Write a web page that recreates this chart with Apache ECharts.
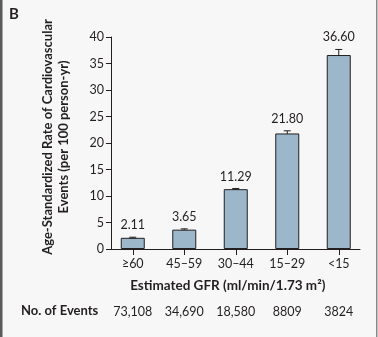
<!DOCTYPE html>
<html><head><meta charset="utf-8">
<script src="https://cdn.jsdelivr.net/npm/echarts@6/dist/echarts.min.js"></script>
<style>html,body{margin:0;padding:0;background:#f7f7f7}#c{width:378px;height:337px}</style>
</head><body><div id="c"></div>
<script>
var categories = ['≥60', '45–59', '30–44', '15–29', '<15'];
var rates = [2.11, 3.65, 11.29, 21.80, 36.60];
var ciLow = [2.0, 3.5, 11.15, 21.35, 35.9];
var ciHigh = [2.22, 3.8, 11.42, 22.3, 37.65];
var events = ['73,108', '34,690', '18,580', '8809', '3824'];
var yTicks = {min: 0, max: 40, interval: 5};

var FONT = 'Lato';
var TXT = '#231f20';
var chart = echarts.init(document.getElementById('c'), null, {renderer: 'canvas'});
chart.setOption({
  backgroundColor: '#f7f7f7',
  animation: false,
  textStyle: {fontFamily: FONT, color: TXT},
  grid: [
    {left: 107, width: 257.5, top: 37, bottom: 88},
    {left: 111, width: 249, top: 37, bottom: 88}
  ],
  xAxis: [
    {gridIndex: 0, type: 'category', data: categories,
     axisLine: {show: false},
     axisTick: {show: true, alignWithLabel: true, length: 6, lineStyle: {color: TXT}},
     axisLabel: {margin: 8, fontSize: 12.5, color: TXT, fontFamily: FONT, interval: 0},
     name: 'Estimated GFR (ml/min/1.73 m²)', nameLocation: 'middle', nameGap: 30,
     nameTextStyle: {fontSize: 13.5, fontWeight: 'bold', color: TXT, fontFamily: FONT, padding: [0, 16, 0, 0]}},
    {gridIndex: 1, type: 'category', data: categories,
     axisLine: {show: true, lineStyle: {color: TXT, width: 1}},
     axisTick: {show: false}, axisLabel: {show: false}},
    {gridIndex: 0, type: 'category', data: events, position: 'bottom',
     axisLine: {show: false}, axisTick: {show: false},
     axisLabel: {margin: 56, fontSize: 12.5, color: TXT, fontFamily: FONT, interval: 0}}
  ],
  yAxis: [
    {gridIndex: 0, type: 'value', min: yTicks.min, max: yTicks.max, interval: yTicks.interval, show: false},
    {gridIndex: 1, type: 'value', min: yTicks.min, max: yTicks.max, interval: yTicks.interval,
     axisLine: {show: true, lineStyle: {color: TXT}},
     axisTick: {show: true, length: 5, lineStyle: {color: TXT}},
     splitLine: {show: false},
     axisLabel: {margin: 7, fontSize: 12.5, color: TXT, fontFamily: FONT},
     name: 'Age-Standardized Rate of Cardiovascular\nEvents (per 100 person-yr)',
     nameLocation: 'middle', nameRotate: 90, nameGap: 39,
     nameTextStyle: {fontSize: 13, fontWeight: 'bold', color: TXT, fontFamily: FONT, lineHeight: 16, padding: [0, 0, 0, 12]}}
  ],
  series: [
    {type: 'bar', xAxisIndex: 0, yAxisIndex: 0, data: rates, barWidth: 24,
     itemStyle: {color: '#9bb7c9', borderColor: '#231f20', borderWidth: 1}},
    {type: 'custom', xAxisIndex: 0, yAxisIndex: 0,
     data: rates.map(function (v, i) { return [i, ciLow[i], ciHigh[i], v]; }),
     renderItem: function (params, api) {
       var x = api.coord([api.value(0), 0])[0];
       var lo = api.coord([api.value(0), api.value(1)])[1];
       var hi = api.coord([api.value(0), api.value(2)])[1];
       var hw = 3.5;
       var st = {stroke: TXT, lineWidth: 1};
       return {type: 'group', children: [
         {type: 'line', shape: {x1: x, y1: lo, x2: x, y2: hi}, style: st},
         {type: 'line', shape: {x1: x - hw, y1: lo, x2: x + hw, y2: lo}, style: st},
         {type: 'line', shape: {x1: x - hw, y1: hi, x2: x + hw, y2: hi}, style: st},
         {type: 'text', x: x, y: hi - 12, style: {text: api.value(3).toFixed(2), fill: TXT,
           font: '12.5px ' + FONT, textAlign: 'center', textVerticalAlign: 'middle'}}
       ]};
     }}
  ],
  graphic: [
    {type: 'rect', left: 0, top: 0, shape: {width: 2.5, height: 337}, style: {fill: '#5a5a5a'}},
    {type: 'rect', left: 376, top: 0, shape: {width: 1.5, height: 337}, style: {fill: '#8a8a8a'}},
    {type: 'text', left: 9, top: 7, style: {text: 'B', font: 'bold 15px ' + FONT, fill: TXT}},
    {type: 'text', left: 21, top: 304, style: {text: 'No. of Events', font: 'bold 13px ' + FONT, fill: TXT}}
  ]
});
</script></body></html>
